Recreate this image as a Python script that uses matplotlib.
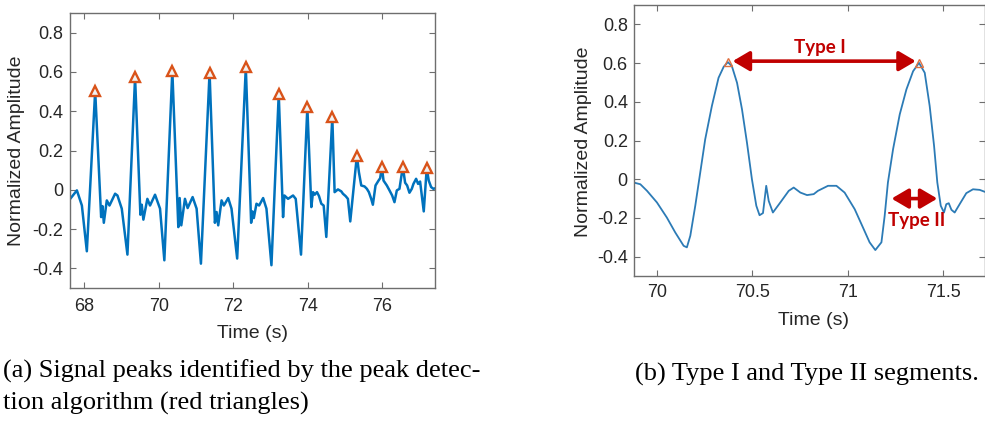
import matplotlib
matplotlib.use("Agg")
import matplotlib.pyplot as plt
from matplotlib.ticker import FuncFormatter

# signal: time (s), normalized amplitude
t_sig = [67.625, 67.804, 67.938, 68.071, 68.295, 68.455, 68.491, 68.527, 68.607, 68.679,
         68.830, 68.893, 69.009, 69.161, 69.366, 69.509, 69.545, 69.589, 69.696, 69.768,
         69.902, 70.036, 70.152, 70.366, 70.527, 70.563, 70.607, 70.705, 70.777, 70.911,
         71.018, 71.134, 71.366, 71.509, 71.554, 71.598, 71.688, 71.750, 71.866, 71.955,
         72.107, 72.339, 72.482, 72.518, 72.554, 72.625, 72.696, 72.804, 72.893, 73.027,
         73.223, 73.339, 73.375, 73.473, 73.607, 73.679, 73.821, 73.991, 74.098, 74.143,
         74.188, 74.250, 74.304, 74.366, 74.429, 74.500, 74.661, 74.723, 74.813, 74.902,
         74.946, 75.018, 75.080, 75.143, 75.321, 75.375, 75.438, 75.527, 75.589, 75.643,
         75.705, 75.750, 75.821, 75.902, 75.946, 75.991, 76.036, 76.125, 76.196, 76.268,
         76.330, 76.393, 76.464, 76.554, 76.616, 76.670, 76.732, 76.795, 76.839, 76.911,
         76.964, 77.018, 77.116, 77.196, 77.250, 77.313, 77.375, 77.429]
amp_sig = [-0.046, -0.003, -0.080, -0.313, 0.504, -0.139, -0.083, -0.168, -0.054, -0.080,
           -0.020, -0.029, -0.096, -0.330, 0.572, -0.127, -0.076, -0.152, -0.046, -0.080,
           -0.025, -0.096, -0.359, 0.606, -0.190, -0.042, -0.181, -0.046, -0.093, -0.037,
           -0.096, -0.376, 0.597, -0.168, -0.113, -0.181, -0.054, -0.080, -0.042, -0.096,
           -0.350, 0.623, -0.168, -0.110, -0.144, -0.071, -0.080, -0.042, -0.096, -0.384,
           0.487, -0.139, -0.029, -0.046, -0.029, -0.046, -0.330, 0.420, -0.088, -0.012,
           -0.025, -0.012, -0.032, -0.071, -0.080, -0.240, 0.369, -0.012, 0.002, -0.008,
           -0.020, -0.032, -0.046, -0.161, 0.174, 0.090, 0.022, 0.017, 0.005, -0.012,
           -0.046, -0.076, 0.022, 0.047, 0.059, 0.118, 0.047, 0.022, -0.003, -0.029,
           -0.063, -0.003, 0.005, 0.118, 0.036, 0.022, -0.015, 0.005, 0.030, 0.056,
           0.030, 0.042, -0.110, 0.110, 0.047, 0.014, 0.005, 0.008]
peak_idx = [4, 14, 23, 32, 41, 50, 57, 66, 74, 85, 93, 103]

# close-up for panel (b)
t_zoom = [69.878, 69.913, 69.948, 70.000, 70.052, 70.096, 70.140, 70.157, 70.175, 70.201,
          70.227, 70.253, 70.288, 70.323, 70.350, 70.372, 70.393, 70.420, 70.446, 70.472,
          70.498, 70.521, 70.538, 70.556, 70.573, 70.586, 70.608, 70.647, 70.691, 70.717,
          70.752, 70.787, 70.822, 70.844, 70.897, 70.941, 70.984, 71.037, 71.080, 71.115,
          71.145, 71.177, 71.194, 71.211, 71.238, 71.273, 71.308, 71.343, 71.374, 71.404,
          71.430, 71.453, 71.470, 71.488, 71.505, 71.517, 71.530, 71.544, 71.561, 71.587,
          71.622, 71.657, 71.692, 71.719]
amp_zoom = [-0.017, -0.026, -0.060, -0.120, -0.198, -0.275, -0.344, -0.352, -0.292, -0.137,
            0.034, 0.206, 0.378, 0.524, 0.581, 0.605, 0.584, 0.498, 0.361, 0.189,
            0.000, -0.137, -0.186, -0.175, -0.034, -0.112, -0.172, -0.120, -0.060, -0.043,
            -0.069, -0.082, -0.077, -0.060, -0.034, -0.034, -0.069, -0.155, -0.249, -0.326,
            -0.366, -0.326, -0.189, -0.017, 0.155, 0.335, 0.464, 0.558, 0.601, 0.550,
            0.378, 0.172, -0.017, -0.137, -0.172, -0.129, -0.124, -0.158, -0.172, -0.129,
            -0.072, -0.052, -0.055, -0.065]
zoom_peak_idx = [15, 48]
type2_span = [71.23, 71.47]

plt.rcParams["font.family"] = ["Liberation Sans", "DejaVu Sans"]
plt.rcParams["axes.unicode_minus"] = False

BLUE = "#0072BD"
ORANGE = "#D95319"
DARKRED = "#C00000"
TXT = "#262626"
fmt = FuncFormatter(lambda v, p: f"{v:g}")

fig = plt.figure(figsize=(9.85, 4.21), dpi=100)
ax1 = fig.add_axes([0.0711, 0.3159, 0.3706, 0.6532])
ax2 = fig.add_axes([0.6437, 0.3444, 0.3563, 0.6437])

for ax in (ax1, ax2):
    for s in ax.spines.values():
        s.set_color("#6e6e6e")
        s.set_linewidth(1.0)
        s.set_clip_on(False)
    ax.tick_params(direction="in", length=4, width=0.8, colors="#6e6e6e",
                   labelcolor=TXT, labelsize=13, top=True, right=True)
    ax.xaxis.set_major_formatter(fmt)
    ax.yaxis.set_major_formatter(fmt)
    ax.set_ylim(-0.5, 0.9)
    ax.set_yticks([-0.4, -0.2, 0, 0.2, 0.4, 0.6, 0.8])

# (a) full signal with detected peaks
ax1.plot(t_sig, amp_sig, color=BLUE, lw=1.8, zorder=2)
ax1.plot([t_sig[i] for i in peak_idx], [amp_sig[i] for i in peak_idx], "^",
         ms=7.5, mew=1.7, mec=ORANGE, mfc="#f2f2f2", zorder=3)
ax1.set_xlim(67.62, 77.42)
ax1.set_xticks([68, 70, 72, 74, 76])
ax1.tick_params(axis="x", pad=7)
ax1.tick_params(axis="y", pad=5)
ax1.set_xlabel("Time (s)", fontsize=14, color=TXT)
ax1.set_ylabel("Normalized Amplitude", fontsize=14, color=TXT)
ax1.xaxis.set_label_coords(0.5, -0.135)
ax1.yaxis.set_label_coords(-0.123, 0.5)

# (b) close-up with segment types
ax2.plot(t_zoom, amp_zoom, color="#2C7BB6", lw=1.3, zorder=2)
ax2.plot([t_zoom[i] for i in zoom_peak_idx], [amp_zoom[i] for i in zoom_peak_idx], "^",
         ms=6, mew=1.0, mec="#E07040", mfc="none", zorder=3)
ax2.set_xlim(69.88, 71.72)
ax2.set_xticks([70, 70.5, 71, 71.5])
ax2.tick_params(axis="x", pad=5.5)
ax2.tick_params(axis="y", pad=4.5)
ax2.set_xlabel("Time (s)", fontsize=14, color=TXT)
ax2.set_ylabel("Normalized Amplitude", fontsize=14, color=TXT)
ax2.xaxis.set_label_coords(0.51, -0.133)
ax2.yaxis.set_label_coords(-0.12, 0.494)

p1, p2 = zoom_peak_idx
arrow = dict(arrowstyle="<|-|>,head_length=0.85,head_width=0.5", color=DARKRED,
             lw=2.6, shrinkA=0, shrinkB=0, mutation_scale=12)
ax2.annotate("", xy=(t_zoom[p2] - 0.017, 0.61), xytext=(t_zoom[p1] + 0.025, 0.61),
             arrowprops=arrow)
ax2.text((t_zoom[p1] + t_zoom[p2]) / 2 - 0.02, 0.683, "Type I", color=DARKRED,
         fontsize=13.5, fontweight="bold", family=["Lato", "DejaVu Sans"],
         ha="center", va="center")
ax2.annotate("", xy=(type2_span[1], -0.1), xytext=(type2_span[0], -0.1),
             arrowprops=arrow)
ax2.text(sum(type2_span) / 2 + 0.01, -0.213, "Type II", color=DARKRED,
         fontsize=13.5, fontweight="bold", family=["Lato", "DejaVu Sans"],
         ha="center", va="center")

cap = dict(fontsize=19, family=["Liberation Serif", "DejaVu Serif"], color="black",
           va="baseline", ha="left")
fig.text(0.003, 0.102, "(a) Signal peaks identified by the peak detec-", **cap)
fig.text(0.003, 0.026, "tion algorithm (red triangles)", **cap)
fig.text(0.6447, 0.097, "(b) Type I and Type II segments.", **cap)

fig.savefig("out.png", dpi=100)
